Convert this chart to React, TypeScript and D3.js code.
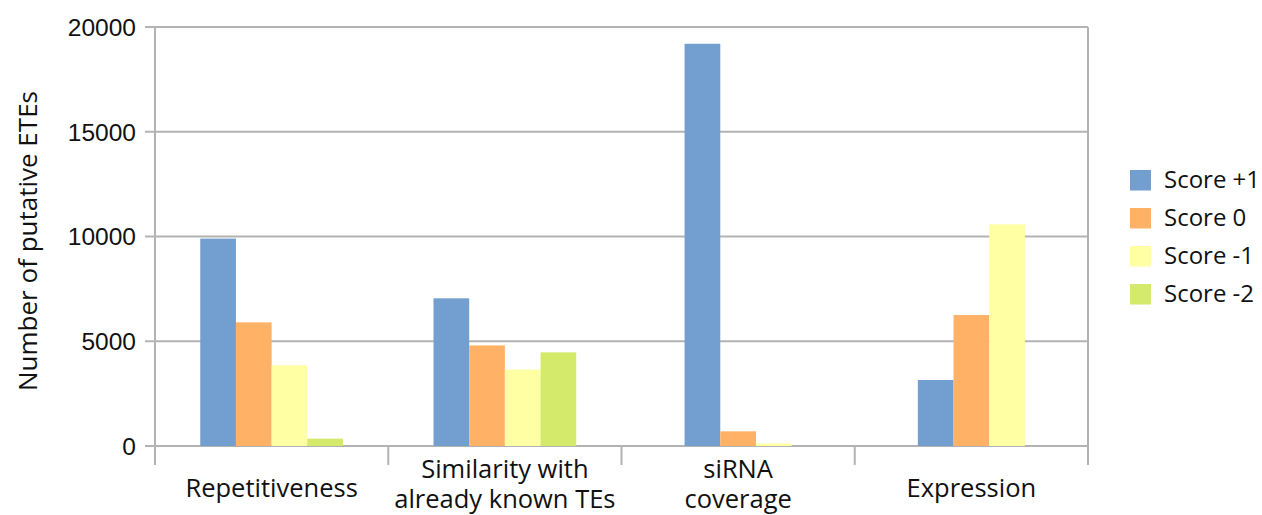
import React from "react";
import * as d3 from "d3";

const categories = ["Repetitiveness", "Similarity with already known TEs", "siRNA coverage", "Expression"];
const categoryLines = [["Repetitiveness"], ["Similarity with", "already known TEs"], ["siRNA", "coverage"], ["Expression"]];
const seriesNames = ["Score +1", "Score 0", "Score -1", "Score -2"];
const seriesColors = ["#729fcf", "#ffb165", "#ffffa3", "#d4ea6b"];
const scorePlus1 = [9900, 7050, 19200, 3150];
const score0 = [5900, 4800, 700, 6250];
const scoreMinus1 = [3850, 3650, 120, 10580];
const scoreMinus2: (number | null)[] = [350, 4470, null, null];
const yTicks = [0, 5000, 10000, 15000, 20000];

const seriesValues: (number | null)[][] = [scorePlus1, score0, scoreMinus1, scoreMinus2];

export default function App() {
  const width = 1262, height = 515;
  const left = 155, right = 1088, top = 27, bottom = 446;
  const x = d3.scaleBand<string>().domain(categories).range([left, right]).padding(0);
  const bw = x.bandwidth();
  const barW = (bw * 0.612) / seriesNames.length;
  const y = d3.scaleLinear().domain([0, 20000]).range([bottom, top]);
  const grid = "#b3b3b3";
  const font = "'Open Sans', 'DejaVu Sans', sans-serif";
  const tickFont = "'Liberation Sans', Arial, sans-serif";
  return (
    <svg width={width} height={height} style={{ position: "absolute", left: 0, top: 0, background: "#fff" }}>
      {yTicks.map((t) => (
        <g key={t}>
          <line x1={left - 10} x2={right} y1={y(t)} y2={y(t)} stroke={grid} strokeWidth={2} />
          <text x={136} y={y(t)} dy="0.36em" textAnchor="end" fontFamily={tickFont} fontSize={24.5} fill="#111">{t}</text>
        </g>
      ))}
      <line x1={left} x2={left} y1={top} y2={465} stroke={grid} strokeWidth={2} />
      <line x1={right} x2={right} y1={top} y2={bottom} stroke={grid} strokeWidth={2} />
      {categories.map((c) => (
        <line key={"t" + c} x1={(x(c) as number) + bw} x2={(x(c) as number) + bw} y1={bottom} y2={465} stroke={grid} strokeWidth={2} />
      ))}
      {categories.map((c, ci) => {
        const present = seriesNames.filter((_, si) => seriesValues[si][ci] !== null);
        const cx = (x(c) as number) + bw / 2;
        const inner = d3.scaleBand<string>().domain(present)
          .range([cx - (present.length * barW) / 2, cx + (present.length * barW) / 2]).padding(0);
        return (
          <g key={c}>
            {seriesNames.map((s, si) => {
              const v = seriesValues[si][ci];
              if (v === null || v <= 0) return null;
              return (
                <rect key={s} x={inner(s) as number} width={inner.bandwidth()} y={y(v)} height={y(0) - y(v)} fill={seriesColors[si]} />
              );
            })}
          </g>
        );
      })}
      {categories.map((c, ci) => {
        const lines = categoryLines[ci];
        const cx = (x(c) as number) + bw / 2;
        const y0 = lines.length === 1 ? 496.5 : 478;
        return (
          <text key={"l" + c} x={cx} textAnchor="middle" fontFamily={font} fontSize={25.5} fill="#111">
            {lines.map((l, i) => (
              <tspan key={i} x={cx} y={y0 + i * 30}>{l}</tspan>
            ))}
          </text>
        );
      })}
      <text transform={`translate(37,241) rotate(-90)`} textAnchor="middle" fontFamily={font} fontSize={26} fill="#111">Number of putative ETEs</text>
      {seriesNames.map((s, i) => (
        <g key={"lg" + s}>
          <rect x={1130} y={170 + i * 38} width={21} height={20.5} fill={seriesColors[i]} />
          <text x={1164} y={188.3 + i * 38} fontFamily={font} fontSize={24} fill="#111">{s}</text>
        </g>
      ))}
    </svg>
  );
}
